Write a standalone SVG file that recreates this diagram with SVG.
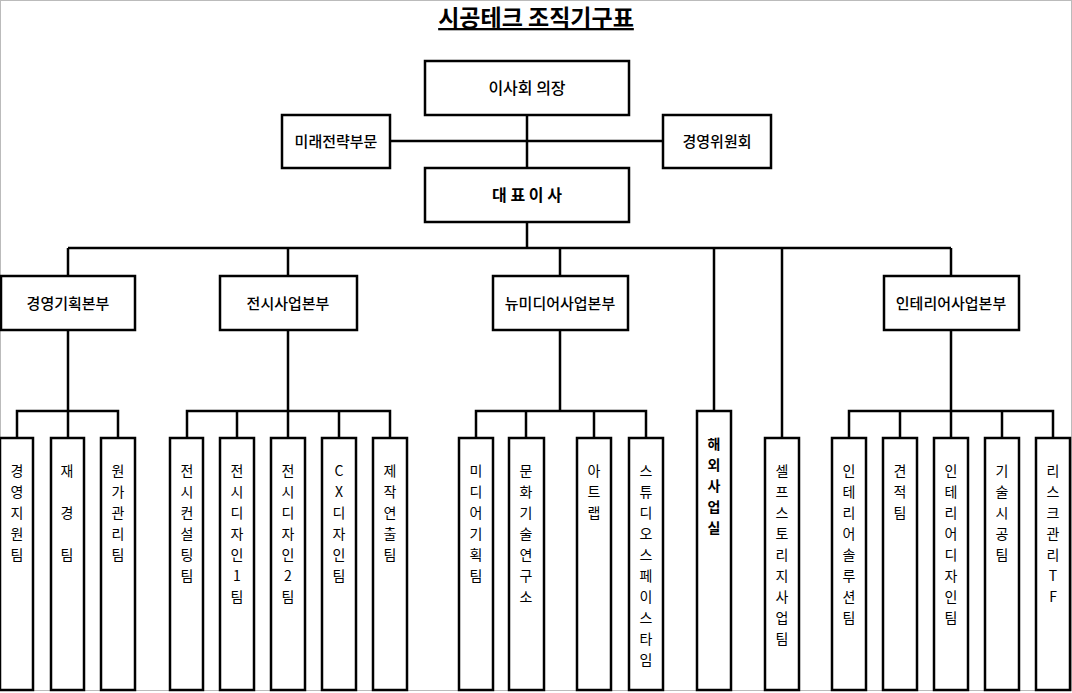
<svg xmlns="http://www.w3.org/2000/svg" width="1072" height="693" viewBox="0 0 1072 693">
<style>
.b{fill:#fff;stroke:#000;stroke-width:2.5}
.l{fill:none;stroke:#000;stroke-width:2.5}
text{font-family:"Malgun Gothic","Noto Sans CJK KR",sans-serif;font-size:14px;fill:#000;text-anchor:middle}
.m{font-size:15px;font-weight:500}
.h{font-size:16px;font-weight:500}
.v tspan{dominant-baseline:central}
</style>
<rect x="0.5" y="0.5" width="1071" height="690" fill="#fff" stroke="#bbb"/>
<text x="536" y="26" style="font-size:23px;font-weight:bold" text-decoration="underline">시공테크 조직기구표</text>
<g id="connectors">
<path class="l" d="M527 115V168M390 141H663M527 222V248M68 248H951M68 248V276M288 248V276M560 248V276M951 248V276M714 248V410M782 248V438"/>
<path class="l" d="M68 330V411M17 438V411H118V438M68 411V438"/>
<path class="l" d="M288 330V438M187 438V411H390V438M237 411V438M339 411V438"/>
<path class="l" d="M560 330V411M476 438V411H646V438M526 411V438M594 411V438"/>
<path class="l" d="M951 330V438M849 438V411H1053V438M900 411V438M1002 411V438"/>
</g>
<g id="n-chair"><rect class="b" x="425" y="61" width="204" height="54"/><text class="h" x="527" y="94">이사회 의장</text></g>
<g id="n-future"><rect class="b" x="282" y="115" width="108" height="53"/><text class="m" x="336" y="147">미래전략부문</text></g>
<g id="n-mgmt"><rect class="b" x="663" y="115" width="108" height="53"/><text class="m" x="717" y="147">경영위원회</text></g>
<g id="n-ceo"><rect class="b" x="425" y="168" width="204" height="54"/><text class="h" x="527" y="201" style="font-weight:bold">대 표 이 사</text></g>
<g id="n-d1"><rect class="b" x="1" y="276" width="134" height="54"/><text class="m" x="68" y="309">경영기획본부</text></g>
<g id="n-d2"><rect class="b" x="220" y="276" width="137" height="54"/><text class="m" x="288" y="309">전시사업본부</text></g>
<g id="n-d3"><rect class="b" x="493" y="276" width="135" height="54"/><text class="m" x="560" y="309">뉴미디어사업본부</text></g>
<g id="n-d4"><rect class="b" x="884" y="276" width="135" height="54"/><text class="m" x="951" y="309">인테리어사업본부</text></g>
<g id="n-t1"><rect class="b" x="0" y="438" width="33" height="252"/><text class="v"><tspan x="17" y="470">경</tspan><tspan x="17" dy="21">영</tspan><tspan x="17" dy="21">지</tspan><tspan x="17" dy="21">원</tspan><tspan x="17" dy="21">팀</tspan></text></g>
<g id="n-t2"><rect class="b" x="51" y="438" width="33" height="252"/><text class="v"><tspan x="67" y="470">재</tspan><tspan x="67" dy="42">경</tspan><tspan x="67" dy="42">팀</tspan></text></g>
<g id="n-t3"><rect class="b" x="101" y="438" width="34" height="252"/><text class="v"><tspan x="118" y="470">원</tspan><tspan x="118" dy="21">가</tspan><tspan x="118" dy="21">관</tspan><tspan x="118" dy="21">리</tspan><tspan x="118" dy="21">팀</tspan></text></g>
<g id="n-t4"><rect class="b" x="170" y="438" width="33" height="252"/><text class="v"><tspan x="187" y="470">전</tspan><tspan x="187" dy="21">시</tspan><tspan x="187" dy="21">컨</tspan><tspan x="187" dy="21">설</tspan><tspan x="187" dy="21">팅</tspan><tspan x="187" dy="21">팀</tspan></text></g>
<g id="n-t5"><rect class="b" x="220" y="438" width="34" height="252"/><text class="v"><tspan x="237" y="470">전</tspan><tspan x="237" dy="21">시</tspan><tspan x="237" dy="21">디</tspan><tspan x="237" dy="21">자</tspan><tspan x="237" dy="21">인</tspan><tspan x="237" dy="21">1</tspan><tspan x="237" dy="21">팀</tspan></text></g>
<g id="n-t6"><rect class="b" x="271" y="438" width="34" height="252"/><text class="v"><tspan x="288" y="470">전</tspan><tspan x="288" dy="21">시</tspan><tspan x="288" dy="21">디</tspan><tspan x="288" dy="21">자</tspan><tspan x="288" dy="21">인</tspan><tspan x="288" dy="21">2</tspan><tspan x="288" dy="21">팀</tspan></text></g>
<g id="n-t7"><rect class="b" x="322" y="438" width="34" height="252"/><text class="v"><tspan x="339" y="470">C</tspan><tspan x="339" dy="21">X</tspan><tspan x="339" dy="21">디</tspan><tspan x="339" dy="21">자</tspan><tspan x="339" dy="21">인</tspan><tspan x="339" dy="21">팀</tspan></text></g>
<g id="n-t8"><rect class="b" x="373" y="438" width="34" height="252"/><text class="v"><tspan x="390" y="470">제</tspan><tspan x="390" dy="21">작</tspan><tspan x="390" dy="21">연</tspan><tspan x="390" dy="21">출</tspan><tspan x="390" dy="21">팀</tspan></text></g>
<g id="n-t9"><rect class="b" x="459" y="438" width="34" height="252"/><text class="v"><tspan x="476" y="470">미</tspan><tspan x="476" dy="21">디</tspan><tspan x="476" dy="21">어</tspan><tspan x="476" dy="21">기</tspan><tspan x="476" dy="21">획</tspan><tspan x="476" dy="21">팀</tspan></text></g>
<g id="n-t10"><rect class="b" x="509" y="438" width="35" height="252"/><text class="v"><tspan x="526" y="470">문</tspan><tspan x="526" dy="21">화</tspan><tspan x="526" dy="21">기</tspan><tspan x="526" dy="21">술</tspan><tspan x="526" dy="21">연</tspan><tspan x="526" dy="21">구</tspan><tspan x="526" dy="21">소</tspan></text></g>
<g id="n-t11"><rect class="b" x="577" y="438" width="34" height="252"/><text class="v"><tspan x="594" y="470">아</tspan><tspan x="594" dy="21">트</tspan><tspan x="594" dy="21">랩</tspan></text></g>
<g id="n-t12"><rect class="b" x="629" y="438" width="34" height="252"/><text class="v"><tspan x="646" y="470">스</tspan><tspan x="646" dy="21">튜</tspan><tspan x="646" dy="21">디</tspan><tspan x="646" dy="21">오</tspan><tspan x="646" dy="21">스</tspan><tspan x="646" dy="21">페</tspan><tspan x="646" dy="21">이</tspan><tspan x="646" dy="21">스</tspan><tspan x="646" dy="21">타</tspan><tspan x="646" dy="21">임</tspan></text></g>
<g id="n-overseas"><rect class="b" x="697" y="411" width="34" height="279"/><text class="v" style="font-weight:bold"><tspan x="714" y="443">해</tspan><tspan x="714" dy="21">외</tspan><tspan x="714" dy="21">사</tspan><tspan x="714" dy="21">업</tspan><tspan x="714" dy="21">실</tspan></text></g>
<g id="n-self"><rect class="b" x="765" y="438" width="34" height="252"/><text class="v"><tspan x="782" y="470">셀</tspan><tspan x="782" dy="21">프</tspan><tspan x="782" dy="21">스</tspan><tspan x="782" dy="21">토</tspan><tspan x="782" dy="21">리</tspan><tspan x="782" dy="21">지</tspan><tspan x="782" dy="21">사</tspan><tspan x="782" dy="21">업</tspan><tspan x="782" dy="21">팀</tspan></text></g>
<g id="n-t13"><rect class="b" x="832" y="438" width="34" height="252"/><text class="v"><tspan x="849" y="470">인</tspan><tspan x="849" dy="21">테</tspan><tspan x="849" dy="21">리</tspan><tspan x="849" dy="21">어</tspan><tspan x="849" dy="21">솔</tspan><tspan x="849" dy="21">루</tspan><tspan x="849" dy="21">션</tspan><tspan x="849" dy="21">팀</tspan></text></g>
<g id="n-t14"><rect class="b" x="883" y="438" width="34" height="252"/><text class="v"><tspan x="900" y="470">견</tspan><tspan x="900" dy="21">적</tspan><tspan x="900" dy="21">팀</tspan></text></g>
<g id="n-t15"><rect class="b" x="934" y="438" width="34" height="252"/><text class="v"><tspan x="951" y="470">인</tspan><tspan x="951" dy="21">테</tspan><tspan x="951" dy="21">리</tspan><tspan x="951" dy="21">어</tspan><tspan x="951" dy="21">디</tspan><tspan x="951" dy="21">자</tspan><tspan x="951" dy="21">인</tspan><tspan x="951" dy="21">팀</tspan></text></g>
<g id="n-t16"><rect class="b" x="985" y="438" width="34" height="252"/><text class="v"><tspan x="1002" y="470">기</tspan><tspan x="1002" dy="21">술</tspan><tspan x="1002" dy="21">시</tspan><tspan x="1002" dy="21">공</tspan><tspan x="1002" dy="21">팀</tspan></text></g>
<g id="n-t17"><rect class="b" x="1036" y="438" width="34" height="252"/><text class="v"><tspan x="1053" y="470">리</tspan><tspan x="1053" dy="21">스</tspan><tspan x="1053" dy="21">크</tspan><tspan x="1053" dy="21">관</tspan><tspan x="1053" dy="21">리</tspan><tspan x="1053" dy="21">T</tspan><tspan x="1053" dy="21">F</tspan></text></g>
</svg>
